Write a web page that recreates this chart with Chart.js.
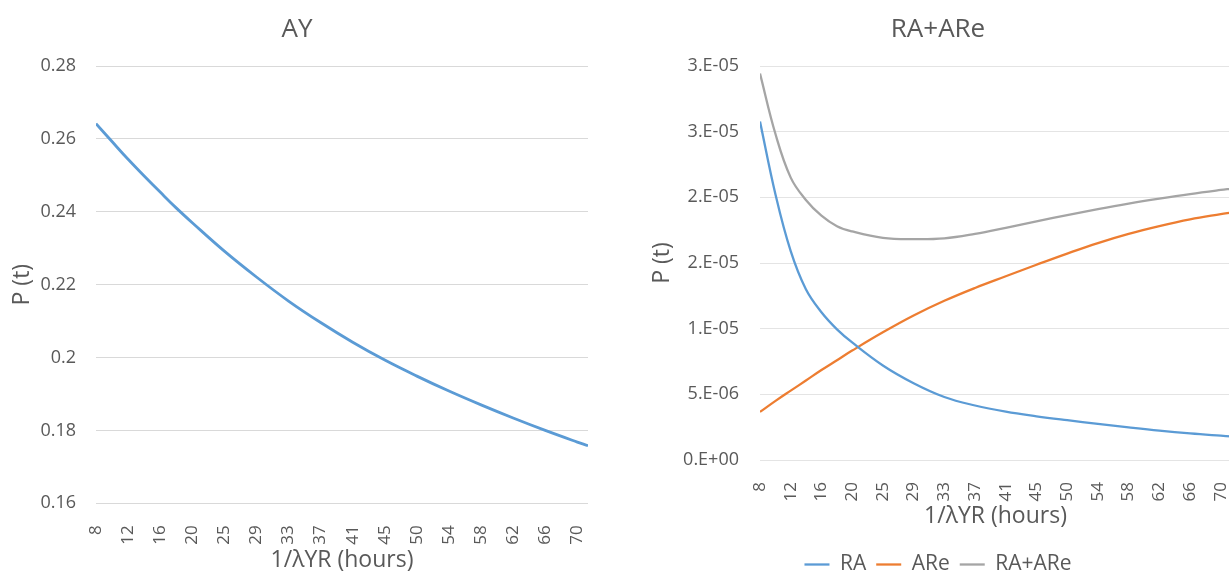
<!DOCTYPE html>
<html><head><meta charset="utf-8">
<script src="https://cdn.jsdelivr.net/npm/chart.js@4.4.1/dist/chart.umd.min.js"></script>
<style>
html,body{margin:0;padding:0;background:#fff;overflow:hidden}
#wrap{position:relative;width:1229px;height:572px;overflow:hidden;background:#fff}
#c1{position:absolute;left:0;top:0}
#c2{position:absolute;left:620px;top:0}
</style></head><body>
<div id="wrap"><canvas id="c1" width="588" height="572"></canvas><canvas id="c2" width="611" height="585"></canvas></div>
<script>
// ---- data ----
const hours = [8, 10.1, 12.15, 14.2, 16.3, 18.4, 20.45, 24.6, 28.75, 32.9, 37.05, 41.2, 45.35, 49.5, 53.65, 57.8, 61.95, 66.1, 70.25, 71.63];
const xTickHours  = [8, 12.15, 16.3, 20.45, 24.6, 28.75, 32.9, 37.05, 41.2, 45.35, 49.5, 53.65, 57.8, 61.95, 66.1, 70.25];
const xTickLabels = ['8','12','16','20','25','29','33','37','41','45','50','54','58','62','66','70'];

const ayValues = [0.2642, 0.2592, 0.2544, 0.2499, 0.2454, 0.2410, 0.2370, 0.2292, 0.2221, 0.2155, 0.2096, 0.2042, 0.1993, 0.1949, 0.1908, 0.1870, 0.1834, 0.1800, 0.1768, 0.1758];
const ayTickValues = [0.16, 0.18, 0.20, 0.22, 0.24, 0.26, 0.28];
const ayTickLabels = ['0.16','0.18','0.2','0.22','0.24','0.26','0.28'];

const raValues  = [25.77e-6, 20.2e-6, 15.9e-6, 13.0e-6, 11.25e-6, 9.95e-6, 8.95e-6, 7.2e-6, 5.85e-6, 4.8e-6, 4.15e-6, 3.68e-6, 3.33e-6, 3.03e-6, 2.75e-6, 2.48e-6, 2.23e-6, 2.02e-6, 1.85e-6, 1.80e-6];
const areValues = [3.66e-6, 4.5e-6, 5.28e-6, 6.05e-6, 6.85e-6, 7.6e-6, 8.33e-6, 9.72e-6, 11.0e-6, 12.12e-6, 13.1e-6, 13.99e-6, 14.87e-6, 15.72e-6, 16.52e-6, 17.22e-6, 17.81e-6, 18.32e-6, 18.72e-6, 18.84e-6];
const sumValues = [29.43e-6, 24.8e-6, 21.5e-6, 19.8e-6, 18.6e-6, 17.8e-6, 17.4e-6, 16.92e-6, 16.82e-6, 16.88e-6, 17.22e-6, 17.68e-6, 18.17e-6, 18.65e-6, 19.1e-6, 19.52e-6, 19.9e-6, 20.25e-6, 20.56e-6, 20.65e-6];
const rTickValues = [0, 5e-6, 10e-6, 15e-6, 20e-6, 25e-6, 30e-6];
const rTickLabels = ['0.E+00','5.E-06','1.E-05','2.E-05','2.E-05','3.E-05','3.E-05'];

const seriesNames = ['RA', 'ARe', 'RA+ARe'];
const xTitle = '1/\u03BBYR (hours)';
const yTitle = 'P (t)';

// ---- styling ----
const FONT = "'Open Sans', sans-serif";
const GREY = '#595959';
const pts = vals => hours.map((h, i) => ({x: h, y: vals[i]}));

function xAxis(height, titlePadBottom) {
  return {
    type: 'linear', min: 8, max: 71.63,
    grid: {display: false}, border: {display: false},
    afterBuildTicks(s) { s.ticks = xTickHours.map(v => ({value: v})); },
    afterFit(s) { s.height = height; s.paddingRight = 0; s.paddingLeft = 0; },
    ticks: {autoSkip: false, maxRotation: 90, minRotation: 90, padding: 14, color: GREY,
            font: {family: FONT, size: 17}, callback: (v, i) => xTickLabels[i]},
    title: {display: true, text: xTitle, color: GREY, font: {family: FONT, size: 23, lineHeight: 1},
            padding: {top: 0, bottom: titlePadBottom}}
  };
}
function yAxis(min, max, vals, labels, width, tickPad, titlePad, gridColor) {
  return {
    min: min, max: max,
    grid: {color: gridColor, drawTicks: false}, border: {display: false},
    afterBuildTicks(s) { s.ticks = vals.map(v => ({value: v})); },
    afterFit(s) { s.width = width; },
    ticks: {padding: tickPad, color: GREY, font: {family: FONT, size: 18}, callback: (v, i) => labels[i]},
    title: {display: true, text: yTitle, color: GREY, font: {family: FONT, size: 23, lineHeight: 1},
            padding: {top: titlePad, bottom: 0}}
  };
}
function titleOpt(text) {
  return {display: true, text: text, color: GREY, font: {family: FONT, size: 26, weight: 'normal'},
          padding: {top: 14.4, bottom: 20.4}};
}
const line = (label, vals, color, w) => ({label: label, data: pts(vals), borderColor: color, backgroundColor: color,
  borderWidth: w, pointRadius: 0, pointStyle: 'line', tension: 0.4, fill: false});

new Chart(document.getElementById('c1'), {
  type: 'line',
  data: {datasets: [line('AY', ayValues, '#5B9BD5', 2.8)]},
  options: {
    responsive: false, animation: false, devicePixelRatio: 1,
    layout: {padding: {left: 6, right: 0, top: 0, bottom: 0}},
    plugins: {legend: {display: false}, tooltip: {enabled: false}, title: titleOpt('AY')},
    scales: {
      x: xAxis(68.7, 0.5),
      y: yAxis(0.16, 0.28, ayTickValues, ayTickLabels, 90, 20, 4.5, '#d9d9d9')
    }
  }
});

new Chart(document.getElementById('c2'), {
  type: 'line',
  data: {datasets: [
    line(seriesNames[0], raValues, '#5B9BD5', 2.3),
    line(seriesNames[1], areValues, '#ED7D31', 2.3),
    line(seriesNames[2], sumValues, '#A5A5A5', 2.3)
  ]},
  options: {
    responsive: false, animation: false, devicePixelRatio: 1,
    layout: {padding: {left: 25, right: 0, top: 0, bottom: 0}},
    plugins: {
      tooltip: {enabled: false}, title: titleOpt('RA+ARe'),
      legend: {display: true, position: 'bottom',
        labels: {usePointStyle: true, pointStyle: 'line', pointStyleWidth: 25, padding: 10,
                 color: GREY, font: {family: FONT, size: 21}}}
    },
    scales: {
      x: xAxis(84, 16.5),
      y: yAxis(0, 30e-6, rTickValues, rTickLabels, 115, 21, 5.5, '#e4e4e4')
    }
  }
});
</script>
</body></html>
